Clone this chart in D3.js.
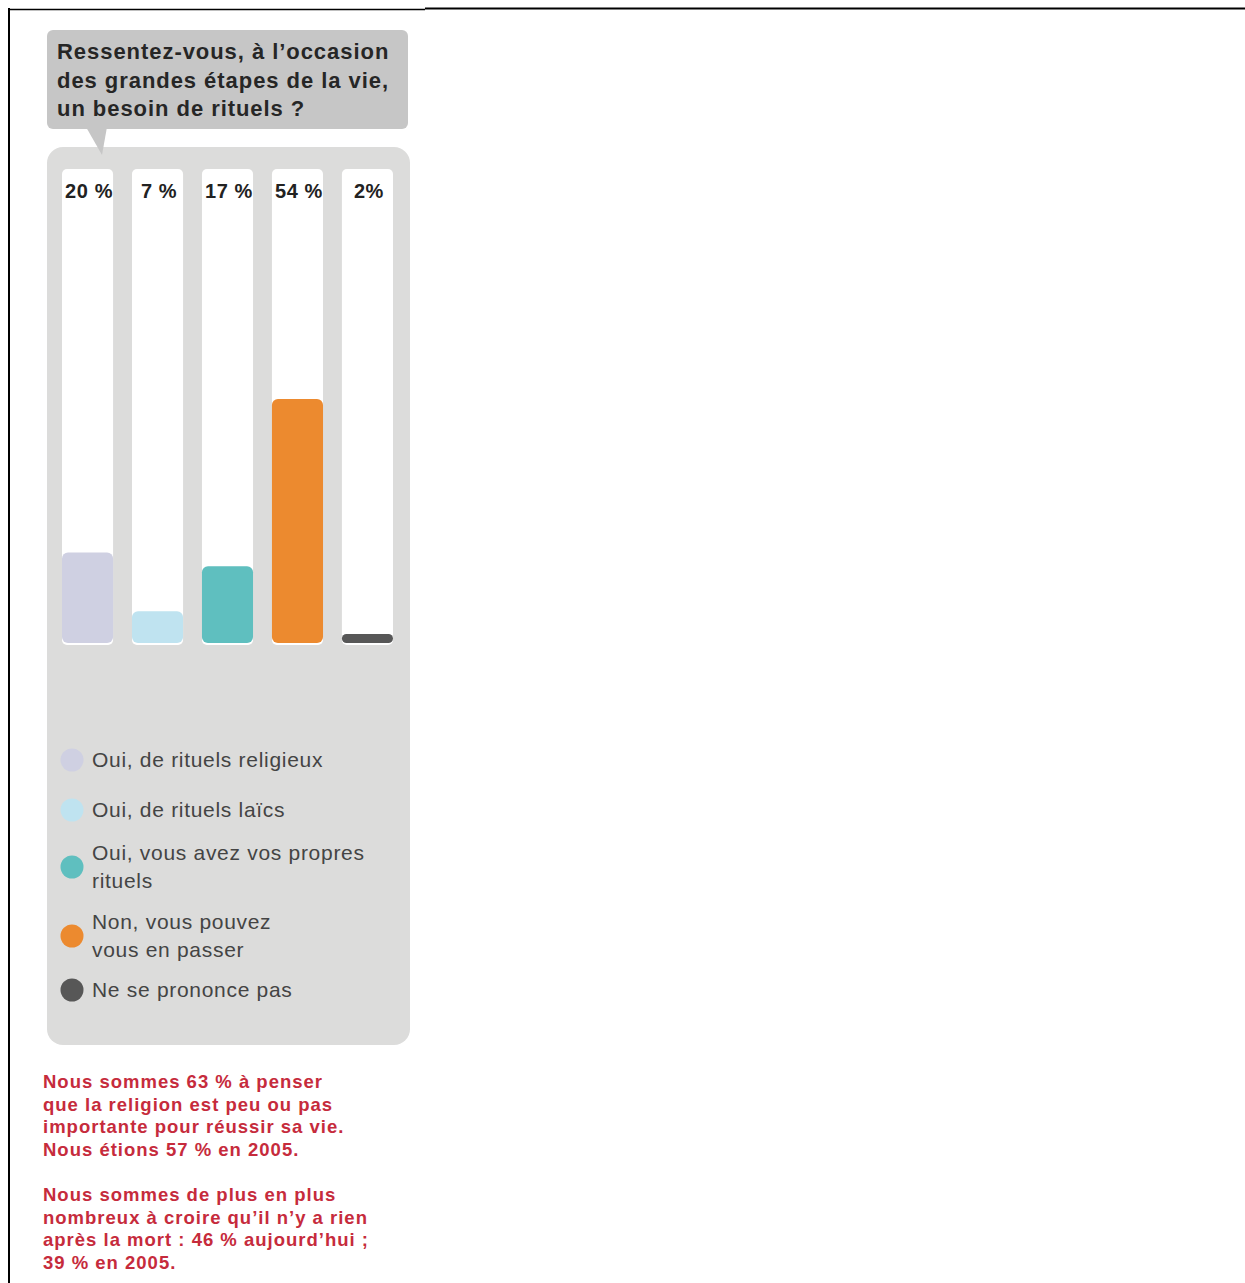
<!DOCTYPE html>
<html><head><meta charset="utf-8">
<script src="https://cdn.jsdelivr.net/npm/d3@7"></script>
<style>html,body{margin:0;padding:0;background:#fff;}svg{display:block;}</style>
</head><body>
<script>
const title = ["Ressentez-vous, à l’occasion", "des grandes étapes de la vie,", "un besoin de rituels ?"];
const categories = ["Oui, de rituels religieux", "Oui, de rituels laïcs", "Oui, vous avez vos propres\nrituels", "Non, vous pouvez\nvous en passer", "Ne se prononce pas"];
const values = [20, 7, 17, 54, 2];
const valueLabels = ["20 %", "7 %", "17 %", "54 %", "2%"];
const palette = ["#cfd0e2", "#bfe3f0", "#5fbfbf", "#ec8a2f", "#575757"];
const notes = [
  ["Nous sommes 63 % à penser", "que la religion est peu ou pas", "importante pour réussir sa vie.", "Nous étions 57 % en 2005."],
  ["Nous sommes de plus en plus", "nombreux à croire qu’il n’y a rien", "après la mort : 46 % aujourd’hui ;", "39 % en 2005."]
];

const W = 1245, H = 1283;
const font = "'Liberation Sans', Arial, Helvetica, sans-serif";
const svg = d3.select("body").append("svg").attr("width", W).attr("height", H);

// frame lines
svg.append("line").attr("x1", 9).attr("x2", 9).attr("y1", 8).attr("y2", H).attr("stroke", "#000").attr("stroke-width", 2);
svg.append("line").attr("x1", 8).attr("x2", 425).attr("y1", 9.5).attr("y2", 9.5).attr("stroke", "#000").attr("stroke-width", 1.5);
svg.append("line").attr("x1", 425).attr("x2", W).attr("y1", 8.5).attr("y2", 8.5).attr("stroke", "#000").attr("stroke-width", 2);

// main panel
svg.append("rect").attr("x", 47).attr("y", 147).attr("width", 363).attr("height", 898).attr("rx", 16).attr("fill", "#dcdcdb");

// title bubble
svg.append("path").attr("d", "M86,127 L102,155 L107,127 Z").attr("fill", "#c6c6c6");
svg.append("rect").attr("x", 47).attr("y", 30).attr("width", 361).attr("height", 99).attr("rx", 6).attr("fill", "#c6c6c6");
svg.append("text").attr("font-family", font).attr("font-weight", "bold").attr("font-size", 22).attr("fill", "#262626")
  .attr("letter-spacing", 0.95)
  .selectAll("tspan").data(title).join("tspan")
  .attr("x", 57).attr("y", (d, i) => 59 + i * 28.5).text(d => d);

// scales
const x = d3.scaleBand().domain(categories).range([62, 393]).paddingInner(0.27).paddingOuter(0);
const y = d3.scaleLinear().domain([0, 100]).range([643, 191]);
const color = d3.scaleOrdinal().domain(categories).range(palette);

const g = svg.append("g");
// white tracks
g.selectAll("rect.track").data(categories).join("rect").attr("class", "track")
  .attr("x", d => x(d)).attr("y", 169).attr("width", x.bandwidth()).attr("height", 476)
  .attr("rx", 5).attr("fill", "#fff");
// bars
g.selectAll("rect.bar").data(values).join("rect").attr("class", "bar")
  .attr("x", (d, i) => x(categories[i])).attr("y", d => y(d))
  .attr("width", x.bandwidth()).attr("height", d => y(0) - y(d))
  .attr("rx", d => Math.min(6, (y(0) - y(d)) / 2)).attr("fill", (d, i) => color(categories[i]));
// value labels
g.selectAll("text.val").data(valueLabels).join("text").attr("class", "val")
  .attr("x", (d, i) => x(categories[i]) + x.bandwidth() / 2 + 1.5).attr("y", 198)
  .attr("text-anchor", "middle").attr("font-family", font).attr("font-weight", "bold")
  .attr("font-size", 20).attr("fill", "#222").attr("letter-spacing", 0.6).text(d => d);

// legend
const legendY = [760, 810, 867, 936, 990];
const leg = svg.append("g").selectAll("g").data(categories).join("g")
  .attr("transform", (d, i) => `translate(0,${legendY[i]})`);
leg.append("circle").attr("cx", 72).attr("cy", 0).attr("r", 11.5).attr("fill", d => color(d));
leg.append("text").attr("font-family", font).attr("font-size", 21).attr("fill", "#444")
  .attr("letter-spacing", 0.7)
  .each(function (d) {
    const lines = d.split("\n");
    const off = lines.length === 1 ? 7 : -7;
    d3.select(this).selectAll("tspan").data(lines).join("tspan")
      .attr("x", 92).attr("y", (l, j) => off + j * 27.5).text(l => l);
  });

// notes
const nt = svg.append("g");
notes.forEach((p, k) => {
  nt.append("text").attr("font-family", font).attr("font-weight", "bold").attr("font-size", 18.5)
    .attr("fill", "#c62b3c").attr("letter-spacing", 1.0)
    .selectAll("tspan").data(p).join("tspan")
    .attr("x", 43).attr("y", (d, i) => 1088 + k * 113 + i * 22.5).text(d => d);
});
</script>
</body></html>
